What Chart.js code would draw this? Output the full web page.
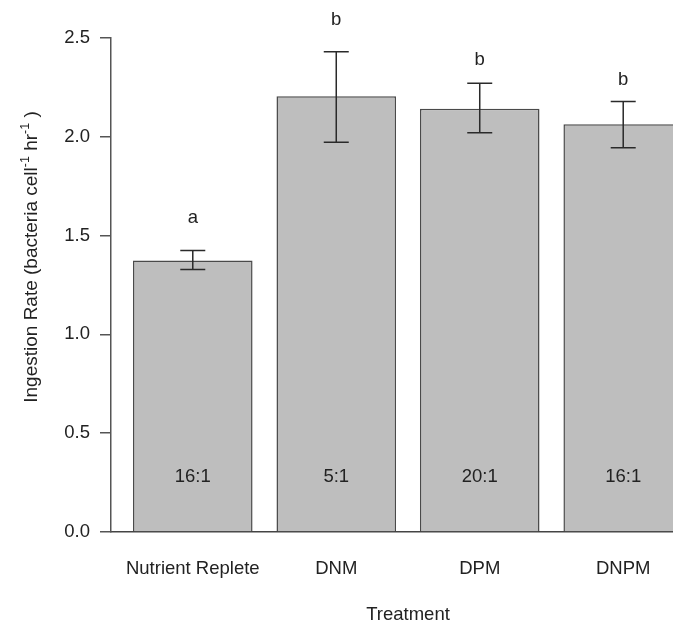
<!DOCTYPE html>
<html>
<head>
<meta charset="utf-8">
<script src="https://cdn.jsdelivr.net/npm/chart.js@4"></script>
<style>
html, body { margin: 0; padding: 0; background: #fff; overflow: hidden; }
#wrap { width: 720px; height: 628px; }
</style>
</head>
<body>
<div id="wrap"><canvas id="bars"></canvas></div>
<script>
const treatments = ['Nutrient Replete', 'DNM', 'DPM', 'DNPM']
const ingestion = [1.374, 2.205, 2.142, 2.064]
const errLow = [1.329, 1.973, 2.020, 1.944]
const errHigh = [1.425, 2.431, 2.271, 2.179]
const letters = ['a', 'b', 'b', 'b']
const letterY = [1.59, 2.59, 2.39, 2.29]
const ratios = ['16:1', '5:1', '20:1', '16:1']
const ratioY = 0.28
const yTicks = [0, 0.5, 1, 1.5, 2, 2.5]

// barplot style layout: bar width 1, space 0.2
const barPos = treatments.map((t, i) => 0.7 + 1.2 * i)

const family = "'Liberation Sans', Arial, sans-serif"
const ink = '#222'

const extras = {
    id: 'extras',
    afterDatasetsDraw(chart) {
        const { ctx, scales: { x, y } } = chart
        ctx.save()

        // error bars
        ctx.strokeStyle = '#2a2a2a'
        ctx.lineWidth = 1.5
        barPos.forEach((p, i) => {
            const px = x.getPixelForValue(p)
            const top = y.getPixelForValue(errHigh[i])
            const bot = y.getPixelForValue(errLow[i])
            ctx.beginPath()
            ctx.moveTo(px, top); ctx.lineTo(px, bot)
            ctx.moveTo(px - 12.5, top); ctx.lineTo(px + 12.5, top)
            ctx.moveTo(px - 12.5, bot); ctx.lineTo(px + 12.5, bot)
            ctx.stroke()
        })

        // letters and N:P ratios
        ctx.font = '18.5px ' + family
        ctx.fillStyle = ink
        ctx.textAlign = 'center'
        ctx.textBaseline = 'middle'
        barPos.forEach((p, i) => {
            const px = x.getPixelForValue(p)
            ctx.fillText(letters[i], px, y.getPixelForValue(letterY[i]))
            ctx.fillText(ratios[i], px, y.getPixelForValue(ratioY))
        })

        // y title with superscripts
        const parts = [
            ['Ingestion Rate (bacteria cell', false],
            ['-1', true],
            [' hr', false],
            ['-1', true],
            [' )', false]
        ]
        const big = '19px ' + family, small = '12.5px ' + family
        let total = 0
        parts.forEach(([t, sup]) => {
            ctx.font = sup ? small : big
            total += ctx.measureText(t).width
        })
        ctx.translate(37, 257)
        ctx.rotate(-Math.PI / 2)
        ctx.textAlign = 'left'
        ctx.textBaseline = 'alphabetic'
        let cx = -total / 2
        parts.forEach(([t, sup]) => {
            ctx.font = sup ? small : big
            ctx.fillText(t, cx, sup ? -8 : 0)
            cx += ctx.measureText(t).width
        })
        ctx.restore()
    }
}

new Chart(document.getElementById('bars'), {
    type: 'bar',
    data: {
        datasets: [{
            data: barPos.map((p, i) => ({ x: p, y: ingestion[i] })),
            backgroundColor: '#bebebe',
            borderColor: '#4a4a4a',
            borderWidth: 1.5,
            categoryPercentage: 1,
            barPercentage: 1 / 1.2
        }]
    },
    options: {
        responsive: true,
        maintainAspectRatio: false,
        animation: false,
        layout: { padding: { top: 38, right: 15, left: 0, bottom: 0 } },
        plugins: { legend: { display: false }, tooltip: { enabled: false } },
        scales: {
            x: {
                type: 'linear',
                offset: false,
                min: 0.016,
                max: 4.984,
                afterBuildTicks(s) { s.ticks = barPos.map(v => ({ value: v })) },
                afterFit(s) { s.height = 96 },
                ticks: {
                    callback: (v, i) => treatments[i],
                    autoSkip: false,
                    maxRotation: 0,
                    padding: 26,
                    color: ink,
                    font: { size: 18.5, family }
                },
                grid: { display: false, drawTicks: false, offset: false },
                border: { display: true, color: '#444', width: 1.5 },
                title: {
                    display: true,
                    text: 'Treatment',
                    color: ink,
                    font: { size: 18.5, family },
                    padding: { top: 0, bottom: 2 }
                }
            },
            y: {
                min: 0,
                max: 2.5,
                afterBuildTicks(s) { s.ticks = yTicks.map(v => ({ value: v })) },
                afterFit(s) { s.width = 111 },
                ticks: {
                    callback: v => v.toFixed(1),
                    padding: 10,
                    color: ink,
                    font: { size: 18.5, family }
                },
                grid: { drawOnChartArea: false, drawTicks: true, tickLength: 11, color: '#555', lineWidth: 1.5 },
                border: { display: true, color: '#555', width: 1.5 }
            }
        }
    },
    plugins: [extras]
})
</script>
</body>
</html>
